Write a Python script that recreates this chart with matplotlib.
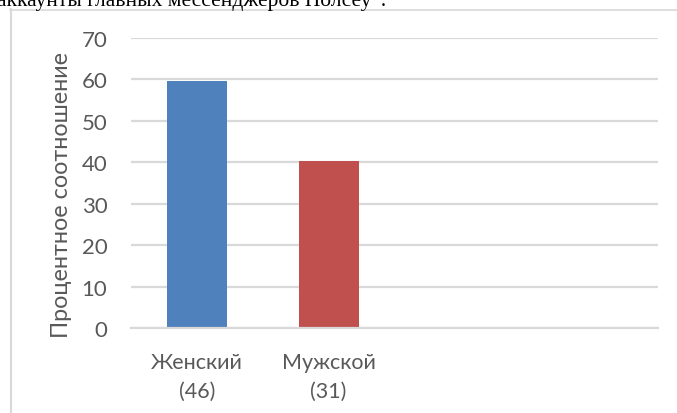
import matplotlib
matplotlib.use("Agg")
import matplotlib.pyplot as plt
from matplotlib.lines import Line2D

categories = ["Женский\n(46)", "Мужской\n(31)", "", ""]
values = [59.7, 40.3, 0, 0]
colors = ["#4f81bd", "#c0504d", "#4f81bd", "#4f81bd"]
yticks = [0, 10, 20, 30, 40, 50, 60, 70]
ylabel = "Процентное соотношение"
header = "аккаунты главных мессенджеров Нолсеу”."

W, H = 677, 414
fig = plt.figure(figsize=(W / 100, H / 100), dpi=100)
fig.patch.set_facecolor("white")

ax = fig.add_axes([131 / W, 1 - 329 / H, (658 - 131) / W, (329 - 39) / H])
x = list(range(len(categories)))
bars = ax.bar(x[:2], values[:2], width=0.455, color=colors[:2], zorder=3)
ax.set_xlim(-0.5, len(categories) - 0.5)
ax.set_ylim(0, 70)
ax.set_yticks(yticks)
ax.set_yticklabels([str(t) for t in yticks])
ax.set_xticks(x[:2])
ax.set_xticklabels(categories[:2])
ax.grid(axis="y", color="#d9d9d9", linewidth=1.6, zorder=0)
for s in ["top", "right", "left"]:
    ax.spines[s].set_visible(False)
ax.spines["bottom"].set_color("#d9d9d9")
ax.spines["bottom"].set_linewidth(1.6)
ax.spines["bottom"].set_zorder(4)
ax.tick_params(axis="both", length=0, colors="#595959", labelsize=16)
ax.tick_params(axis="y", pad=17)
ax.tick_params(axis="x", pad=17)
for lbl in ax.get_xticklabels() + ax.get_yticklabels():
    lbl.set_family("Lato")
for lbl in ax.get_xticklabels():
    lbl.set_linespacing(1.55)
    lbl.set_fontsize(15.5)

fig.text(62 / W, 1 - 195 / H, ylabel, rotation=90, ha="center", va="center",
         fontsize=16.8, color="#595959", family="Lato")

# chart frame (document screenshot)
fig.add_artist(Line2D([10.5 / W, 10.5 / W], [0, 1 - 10 / H], transform=fig.transFigure,
                      color="#d9d9d9", linewidth=1.5))
fig.add_artist(Line2D([10 / W, 1], [1 - 10.5 / H, 1 - 10.5 / H], transform=fig.transFigure,
                      color="#d9d9d9", linewidth=1.2))

# clipped document text at top
fig.text(-3 / W, 1 - 6 / H, header, ha="left", va="baseline", fontsize=15.5,
         family="Liberation Serif", color="black")

fig.savefig("out.png", dpi=100, facecolor="white")
